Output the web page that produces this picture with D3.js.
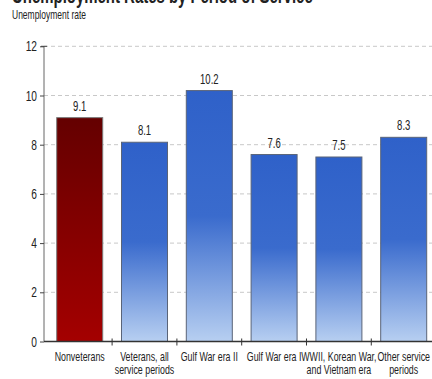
<!DOCTYPE html>
<html><head><meta charset="utf-8">
<script src="https://cdn.jsdelivr.net/npm/d3@7"></script>
<style>
html,body{margin:0;padding:0;background:#fff;}
text{font-family:"Liberation Sans",Arial,sans-serif;fill:#222;}
</style></head>
<body><svg id="c" width="432" height="379"></svg>
<script>
const categories = [["Nonveterans"],["Veterans, all","service periods"],["Gulf War era II"],["Gulf War era I"],["WWII, Korean War,","and Vietnam era"],["Other service","periods"]];
const values = [9.1, 8.1, 10.2, 7.6, 7.5, 8.3];
const yTicks = [0, 2, 4, 6, 8, 10, 12];
const title = "Unemployment Rates by Period of Service";
const subtitle = "Unemployment rate";

const SX = 0.68; // horizontal condensing to mimic a condensed typeface
const svg = d3.select("#c");
const defs = svg.append("defs");
const gr = defs.append("linearGradient").attr("id","gRed").attr("x1",0).attr("y1",0).attr("x2",0).attr("y2",1);
gr.append("stop").attr("offset","0%").attr("stop-color","#640000");
gr.append("stop").attr("offset","100%").attr("stop-color","#a40000");
const gb = defs.append("linearGradient").attr("id","gBlue").attr("x1",0).attr("y1",0).attr("x2",0).attr("y2",1);
gb.append("stop").attr("offset","0%").attr("stop-color","#2f61c9");
gb.append("stop").attr("offset","50%").attr("stop-color","#3a6bcd");
gb.append("stop").attr("offset","100%").attr("stop-color","#b7cff1");

const axisX = 44, right = 432;
const y = d3.scaleLinear().domain([0,12]).range([341.5, 46.3]);
const x = d3.scaleBand().domain(d3.range(values.length)).range([44, 439.4]).paddingInner(0.29).paddingOuter(0.196);

function ctext(g, px, py, size, str, anchor, weight, fill) {
  return g.append("text")
    .attr("transform", `translate(${px},${py}) scale(${SX},1)`)
    .attr("font-size", size).attr("text-anchor", anchor || "start")
    .attr("font-weight", weight || "normal").attr("fill", fill || "#222")
    .text(str);
}

// title (cropped at top) and subtitle
ctext(svg, 12, 3, 22, title, "start", "bold", "#111");
ctext(svg, 12, 19, 12.5, subtitle, "start", "normal", "#222");

// gridlines
svg.append("g").selectAll("line").data(yTicks.filter(d=>d>0)).join("line")
  .attr("x1",axisX).attr("x2",right).attr("y1",d=>y(d)).attr("y2",d=>y(d))
  .attr("stroke","#c8c8c8").attr("stroke-width",1).attr("stroke-dasharray","4,3");

// bars
svg.append("g").selectAll("rect").data(values).join("rect")
  .attr("x",(d,i)=>x(i)).attr("width",x.bandwidth())
  .attr("y",d=>y(d)).attr("height",d=>y(0)-y(d))
  .attr("fill",(d,i)=>i===0?"url(#gRed)":"url(#gBlue)")
  .attr("stroke",(d,i)=>i===0?"#7a7a7a":"#5a6478").attr("stroke-width",1);

// value labels
const vl = svg.append("g");
values.forEach((d,i)=>ctext(vl, x(i)+x.bandwidth()/2, y(d)-7, 14, d.toFixed(1), "middle", "normal", "#333"));

// y axis
const ya = d3.axisLeft(y).tickValues(yTicks).tickSize(4).tickFormat("");
const gy = svg.append("g").attr("transform",`translate(${axisX},0)`).call(ya);
gy.select(".domain").attr("stroke","#666").attr("d",`M0,${y(12)}V${y(0)}`);
gy.selectAll(".tick line").attr("stroke","#444");
gy.append("line").attr("x1",-3).attr("x2",3).attr("y1",y(12)).attr("y2",y(12)).attr("stroke","#444");
const yl = svg.append("g");
yTicks.forEach(t=>ctext(yl, 37, y(t)+5, 15, d3.format("d")(t), "end", "normal", "#222"));

// x axis
svg.append("line").attr("x1",axisX).attr("x2",right).attr("y1",y(0)).attr("y2",y(0)).attr("stroke","#333").attr("stroke-width",1.3);
const bounds = d3.range(1, values.length).map(i => x(i) - x.step()*x.paddingInner()/2);
svg.append("g").selectAll("line").data(bounds).join("line")
  .attr("x1",d=>d).attr("x2",d=>d).attr("y1",y(0)-3).attr("y2",y(0)+4).attr("stroke","#333");

const cg = svg.append("g");
categories.forEach((lines,i)=>{
  lines.forEach((s,j)=>ctext(cg, x(i)+x.bandwidth()/2, 361+j*13, 13, s, "middle", "normal", "#222"));
});
</script></body></html>
